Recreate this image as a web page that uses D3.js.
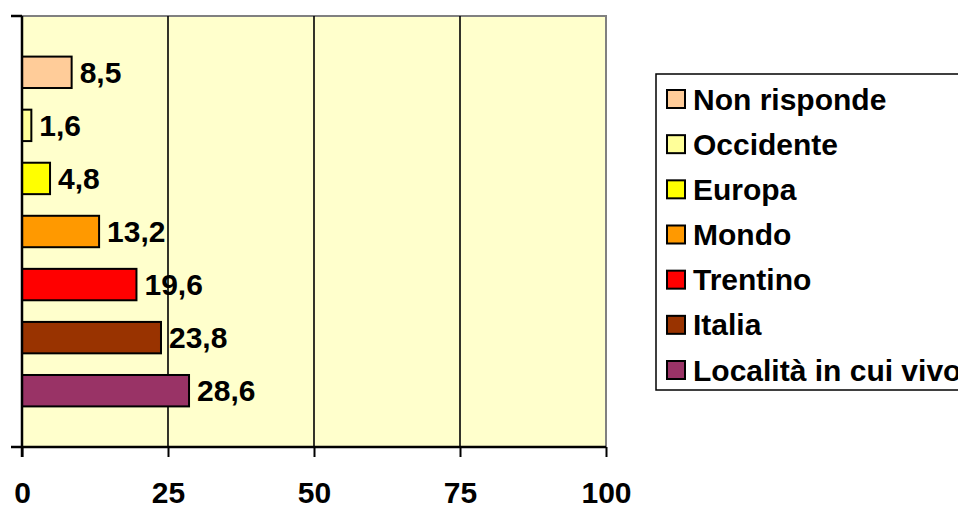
<!DOCTYPE html>
<html><head><meta charset="utf-8">
<script src="https://cdn.jsdelivr.net/npm/d3@7"></script>
<style>body{margin:0;background:#fff;overflow:hidden}svg{display:block}text{font-family:"Liberation Sans",Arial,sans-serif;font-weight:bold;fill:#000}</style>
</head><body>
<script>
const series = ["Non risponde","Occidente","Europa","Mondo","Trentino","Italia","Località in cui vivo"];
const values = [8.5,1.6,4.8,13.2,19.6,23.8,28.6];
const labels = ["8,5","1,6","4,8","13,2","19,6","23,8","28,6"];
const colors = ["#FFCC99","#FFFF99","#FFFF00","#FF9900","#FF0000","#993300","#993366"];
const xTicks = [0,25,50,75,100];

const W=958,H=506;
const svg=d3.select("body").append("svg").attr("width",W).attr("height",H);
const L=22,R=606,T=16,B=447;
const x=d3.scaleLinear().domain([0,100]).range([L,R]);
const y=d3.scaleBand().domain(series).range([T,B]).paddingInner(0.408).paddingOuter(0.765);
const fs=30;

svg.append("rect").attr("x",L).attr("y",T).attr("width",R-L).attr("height",B-T).attr("fill","#FFFFCC");
svg.append("path").attr("d",`M${L},${T}H${R}V${B}`).attr("fill","none").attr("stroke","#808080").attr("stroke-width",2);
svg.selectAll("line.grid").data(xTicks.filter(d=>d>0&&d<100)).enter().append("line")
  .attr("x1",d=>x(d)).attr("x2",d=>x(d)).attr("y1",T).attr("y2",B).attr("stroke","#000").attr("stroke-width",1.6);

svg.selectAll("rect.bar").data(series).enter().append("rect")
  .attr("x",x(0)).attr("y",d=>y(d)).attr("width",(d,i)=>x(values[i])-x(0)).attr("height",y.bandwidth())
  .attr("fill",(d,i)=>colors[i]).attr("stroke","#000").attr("stroke-width",2);
svg.selectAll("text.lab").data(series).enter().append("text")
  .attr("x",(d,i)=>x(values[i])+8).attr("y",d=>y(d)+y.bandwidth()/2+10.5)
  .attr("font-size",fs).text((d,i)=>labels[i]);

const xa=svg.append("g").attr("transform",`translate(0,${B})`)
  .call(d3.axisBottom(x).tickValues(xTicks).tickSize(10).tickFormat(d=>d));
xa.select(".domain").attr("stroke","#000").attr("stroke-width",2.5).attr("d",`M${L-11},0H${R}`);
xa.selectAll(".tick line").attr("stroke","#000").attr("stroke-width",2);
xa.selectAll(".tick text").attr("font-size",fs).attr("font-family","Liberation Sans, Arial, sans-serif").attr("font-weight","bold").attr("fill","#000").attr("y",0).attr("dy",null).attr("transform","translate(0,55.5)");

svg.append("line").attr("x1",L).attr("x2",L).attr("y1",T).attr("y2",B+10).attr("stroke","#000").attr("stroke-width",2.5);
svg.append("line").attr("x1",L-11).attr("x2",L).attr("y1",T).attr("y2",T).attr("stroke","#000").attr("stroke-width",2.5);

const lg=svg.append("g");
lg.append("rect").attr("x",656).attr("y",74).attr("width",400).attr("height",316).attr("fill","#fff").attr("stroke","#000").attr("stroke-width",1.5);
const ly=d3.scalePoint().domain(series).range([99,370]);
series.forEach((s,i)=>{
  lg.append("rect").attr("x",667).attr("y",ly(s)-9).attr("width",18).attr("height",18).attr("fill",colors[i]).attr("stroke","#000").attr("stroke-width",2);
  lg.append("text").attr("x",693).attr("y",ly(s)+10.5).attr("font-size",fs).text(s);
});
</script>
</body></html>
